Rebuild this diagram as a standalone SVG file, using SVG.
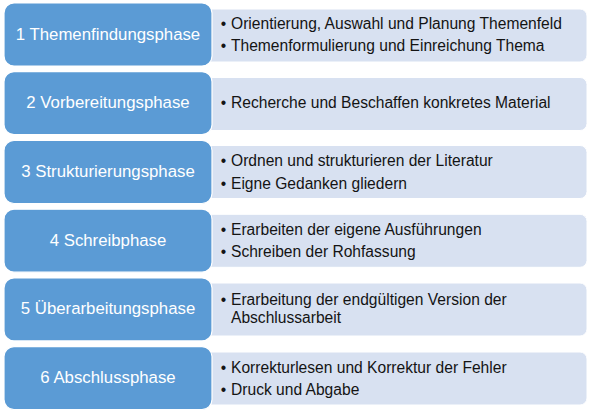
<svg xmlns="http://www.w3.org/2000/svg" width="594" height="418" viewBox="0 0 594 418">
<style>
.bg{fill:#ffffff}
.det{fill:#d8e1f1;stroke:#ffffff;stroke-width:1}
.ph{fill:#5b9bd5;stroke:#ffffff;stroke-width:1.2}
.pt{font-family:"Liberation Sans",Arial,sans-serif;font-size:16.8px;fill:#ffffff;text-anchor:middle}
.dt{font-family:"Liberation Sans",Arial,sans-serif;font-size:15.6px;fill:#141414}
.bu{font-family:"Liberation Sans",Arial,sans-serif;font-size:15.6px;fill:#141414;text-anchor:middle}
</style>
<rect class="bg" x="0" y="0" width="594" height="418"/>
<g id="row1">
<rect class="det" x="190" y="9" width="397" height="53" rx="7"/>
<rect class="ph" x="4" y="3" width="208" height="63" rx="10"/>
<text class="pt" x="108" y="40">1 Themenfindungsphase</text>
<text class="bu" x="223.5" y="28.5">•</text><text class="dt" x="231" y="28.5">Orientierung, Auswahl und Planung Themenfeld</text>
<text class="bu" x="223.5" y="51">•</text><text class="dt" x="231" y="51">Themenformulierung und Einreichung Thema</text>
</g>
<g id="row2">
<rect class="det" x="190" y="77.5" width="397" height="53" rx="7"/>
<rect class="ph" x="4" y="71.7" width="208" height="63" rx="10"/>
<text class="pt" x="108" y="108.2">2 Vorbereitungsphase</text>
<text class="bu" x="223.5" y="108">•</text><text class="dt" x="231" y="108">Recherche und Beschaffen konkretes Material</text>
</g>
<g id="row3">
<rect class="det" x="190" y="145.5" width="397" height="53" rx="7"/>
<rect class="ph" x="4" y="140.5" width="208" height="63" rx="10"/>
<text class="pt" x="108" y="177">3 Strukturierungsphase</text>
<text class="bu" x="223.5" y="166">•</text><text class="dt" x="231" y="166">Ordnen und strukturieren der Literatur</text>
<text class="bu" x="223.5" y="188.5">•</text><text class="dt" x="231" y="188.5">Eigne Gedanken gliedern</text>
</g>
<g id="row4">
<rect class="det" x="190" y="214.3" width="397" height="53" rx="7"/>
<rect class="ph" x="4" y="209.2" width="208" height="63" rx="10"/>
<text class="pt" x="108" y="245.5">4 Schreibphase</text>
<text class="bu" x="223.5" y="234.5">•</text><text class="dt" x="231" y="234.5">Erarbeiten der eigene Ausführungen</text>
<text class="bu" x="223.5" y="256.5">•</text><text class="dt" x="231" y="256.5">Schreiben der Rohfassung</text>
</g>
<g id="row5">
<rect class="det" x="190" y="283" width="397" height="53" rx="7"/>
<rect class="ph" x="4" y="277.9" width="208" height="63" rx="10"/>
<text class="pt" x="108" y="314">5 Überarbeitungsphase</text>
<text class="bu" x="223.5" y="304.5">•</text><text class="dt" x="231" y="304.5">Erarbeitung der endgültigen Version der</text>
<text class="dt" x="231" y="322.5">Abschlussarbeit</text>
</g>
<g id="row6">
<rect class="det" x="190" y="352" width="397" height="53" rx="7"/>
<rect class="ph" x="4" y="346.6" width="208" height="63" rx="10"/>
<text class="pt" x="108" y="383">6 Abschlussphase</text>
<text class="bu" x="223.5" y="372.5">•</text><text class="dt" x="231" y="372.5">Korrekturlesen und Korrektur der Fehler</text>
<text class="bu" x="223.5" y="394.5">•</text><text class="dt" x="231" y="394.5">Druck und Abgabe</text>
</g>
<g id="connectors"></g>
</svg>
